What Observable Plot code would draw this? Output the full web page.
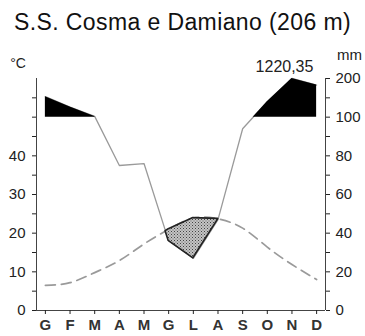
<!DOCTYPE html>
<html><head><meta charset="utf-8">
<script src="https://cdn.jsdelivr.net/npm/d3@7"></script>
<script src="https://cdn.jsdelivr.net/npm/@observablehq/plot@0.6"></script>
<style>
body{margin:0;background:#fff;}
#title{height:36px;font:23px "Liberation Sans",Arial,sans-serif;letter-spacing:0.4px;line-height:44px;text-align:center;color:#111;white-space:nowrap;}
</style></head><body>
<div id="title"></div>
<div id="chart"></div>
<script>
const station = "S.S. Cosma e Damiano (206 m)";
const months = ["G","F","M","A","M","G","L","A","S","O","N","D"];
const temperature = [6.5, 7.2, 9.8, 12.9, 17.2, 21.0, 23.9, 23.7, 21.3, 16.4, 11.9, 8.0];
const precipitation = [153, 126, 102, 75, 76, 36, 27, 47, 94, 140, 200, 183];
const annualTotal = "1220,35";
const tempTickLabels = [0, 10, 20, 30, 40];
const precipTickLabels = [0, 20, 40, 60, 80, 100, 200];

const xDomain = [-0.36, 11.36];
function pScale(p) { return p <= 100 ? p / 2 : 50 + (p - 100) / 10; }
function pInverse(u) { return u <= 50 ? u * 2 : 100 + (u - 50) * 10; }

const data = months.map((m, i) => ({i, m, t: temperature[i], p: pScale(precipitation[i])}));

function region(getLow, getHigh) {
  const out = []; let seg = 0;
  for (let k = 0; k < data.length; k++) {
    const d = data[k], lo = getLow(d), hi = getHigh(d);
    if (k > 0) {
      const pr = data[k - 1], plo = getLow(pr), phi = getHigh(pr);
      const d0 = phi - plo, d1 = hi - lo;
      if ((d0 > 0) !== (d1 > 0)) {
        const f = d0 / (d0 - d1);
        const y = plo + f * (lo - plo);
        out.push({x: pr.i + f, y1: y, y2: y, seg});
        if (d1 <= 0) seg++;
      }
    }
    if (hi > lo) out.push({x: d.i, y1: lo, y2: hi, seg});
  }
  return out;
}
const humid = region(() => 50, d => d.p);
const drought = region(d => d.p, d => d.t);

document.getElementById("title").textContent = station;

const svg = Plot.plot({
  width: 365, height: 300,
  marginLeft: 36, marginRight: 40, marginTop: 42, marginBottom: 26,
  style: {fontFamily: "'Liberation Sans', Arial, sans-serif", fontSize: "15px", color: "#222", background: "#fff"},
  x: {domain: xDomain, axis: null},
  y: {domain: [0, 60], axis: null},
  marks: [
    Plot.line(data, {x: "i", y: "t", stroke: "#9a9a9a", strokeWidth: 1.7, strokeDasharray: "10,6", curve: "natural"}),
    Plot.line(data, {x: "i", y: "p", stroke: "#9a9a9a", strokeWidth: 1.3}),
    Plot.areaY(drought, {x: "x", y1: "y1", y2: "y2", z: "seg", fill: "url(#stipple)", stroke: "#222", strokeWidth: 1.6, strokeLinejoin: "round"}),
    Plot.areaY(humid, {x: "x", y1: "y1", y2: "y2", z: "seg", fill: "#000"}),
    Plot.ruleY([0], {stroke: "#444"}),
    Plot.ruleX([xDomain[0]], {y1: 0, y2: 60, stroke: "#444"}),
    Plot.ruleX([xDomain[1]], {y1: 0, y2: 60, stroke: "#444"}),
    Plot.axisY(d3.range(0, 56, 5), {anchor: "left", tickSize: 4, tickPadding: 7, fontSize: 15,
      tickFormat: v => tempTickLabels.includes(v) ? String(v) : ""}),
    Plot.axisY(d3.range(0, 61, 5), {anchor: "right", tickSize: 4, tickPadding: 6, fontSize: 15,
      tickFormat: u => precipTickLabels.includes(pInverse(u)) ? String(pInverse(u)) : ""}),
    Plot.axisX(d3.range(12), {tickSize: 4, tickPadding: 5, fontSize: 15, fontWeight: "bold", fill: "#333", tickFormat: i => months[i]}),
    Plot.text(["°C"], {text: d => d, frameAnchor: "top-left", textAnchor: "middle", lineAnchor: "middle", dx: -18.5, dy: -15, fontSize: 14}),
    Plot.text(["mm"], {text: d => d, frameAnchor: "top-right", textAnchor: "middle", lineAnchor: "middle", dx: 24, dy: -23, fontSize: 15}),
    Plot.text([annualTotal], {text: d => d, frameAnchor: "top-right", textAnchor: "middle", lineAnchor: "middle", dx: -41, dy: -12, fontSize: 16})
  ]
});
const ns = "http://www.w3.org/2000/svg";
const defs = document.createElementNS(ns, "defs");
defs.innerHTML = '<pattern id="stipple" width="3" height="3" patternUnits="userSpaceOnUse"><rect width="3" height="3" fill="#c4c4c4"/><rect width="1" height="1" fill="#444"/><rect x="1.5" y="1.5" width="1" height="1" fill="#666"/></pattern>';
svg.prepend(defs);
document.getElementById("chart").appendChild(svg);
</script>
</body></html>
